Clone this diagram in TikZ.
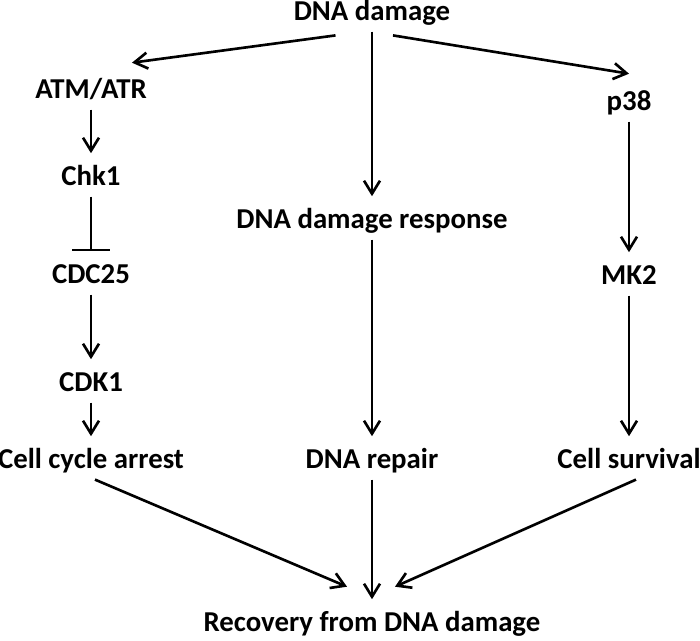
\documentclass[tikz,border=0pt]{standalone}
\usepackage{fontspec}
\setmainfont{Carlito}
\usetikzlibrary{arrows.meta, calc}
\tikzset{
>={Straight Barb[length=2.6mm,width=3.2mm]}, % open arrow heads
every node/.style={font=\fontsize{16.4}{19}\selectfont\bfseries, inner xsep=2pt, inner ysep=2.3pt, text height=15.6pt, text depth=4.1pt, anchor=base}, % plain text, no border
link/.style={->, line width=1.5pt}, % activating edges
block/.style={-{Bar[width=7.6mm]}, line width=1.5pt}, % inhibiting edge
}

\begin{document}
\begin{tikzpicture}[x=0.02cm, y=-0.02cm]
      \useasboundingbox (0,0) rectangle (700,640);

      \node (dna) at (372,20) {DNA damage};
      \node (atm) at (91,98) {ATM/ATR};
      \node (chk) at (91,185) {Chk1};
      \node (cdc) at (91,283) {CDC25};
      \node (cdk) at (91,391) {CDK1};
      \node (arrest) at (91,468) {Cell cycle arrest};
      \node (ddr) at (372,228) {DNA damage response};
      \node (repair) at (372,468) {DNA repair};
      \node (p38) at (629,110) {p38};
      \node (mk2) at (629,284) {MK2};
      \node (survival) at (629,468) {Cell survival};
      \node (recovery) at (372,631) {Recovery from DNA damage};

      \draw[link] ([xshift=-0.73cm, yshift=-0.076cm]dna.south) -- ([xshift=0.82cm, yshift=0.07cm]atm.north);
      \draw[link] (dna.south) -- (ddr.north);
      \draw[link] ([xshift=0.42cm, yshift=-0.076cm]dna.south) -- ([yshift=0.09cm]p38.north);
      \draw[link] (atm.south) -- (chk.north);
      \draw[block] (chk.south) -- (cdc.north);
      \draw[link] (cdc.south) -- (cdk.north);
      \draw[link] (cdk.south) -- (arrest.north);
      \draw[link] (ddr.south) -- (repair.north);
      \draw[link] (p38.south) -- (mk2.north);
      \draw[link] (mk2.south) -- (survival.north);
      \draw[link] ([xshift=0.08cm]arrest.south) -- ([xshift=-0.5cm, yshift=0.25cm]recovery.north);
      \draw[link] (repair.south) -- (recovery.north);
      \draw[link] ([xshift=0.14cm]survival.south) -- ([xshift=0.46cm, yshift=0.25cm]recovery.north);
\end{tikzpicture}
\end{document}
